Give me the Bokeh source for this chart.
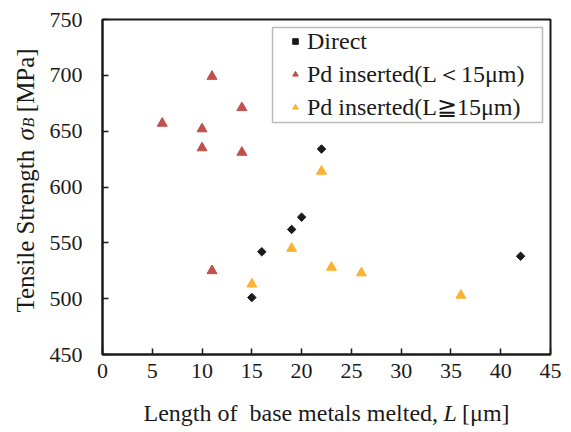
import math
from bokeh.plotting import figure
from bokeh.models import Range1d, FixedTicker, Legend, LegendItem, Label, BoxAnnotation
from bokeh.embed import file_html
from bokeh.resources import INLINE

# ---- data ----
direct_L = [15, 16, 19, 20, 22, 42]
direct_sigma = [501, 542, 562, 573, 634, 538]

pd_lt15_L = [6, 10, 10, 11, 11, 14, 14]
pd_lt15_sigma = [657, 652, 635, 699, 525, 671, 631]

pd_ge15_L = [15, 19, 22, 23, 26, 36]
pd_ge15_sigma = [513, 545, 614, 528, 523, 503]

series_names = ["Direct", "Pd inserted(L\uff1c15\u03bcm)", "Pd inserted(L\u226715\u03bcm)"]
x_ticks = [0, 5, 10, 15, 20, 25, 30, 35, 40, 45]
y_ticks = [450, 500, 550, 600, 650, 700, 750]

SERIF = "Liberation Serif"
INK = "#1a1a1a"
RED = "#C0504D"
ORANGE = "#F9B233"
NB = "\u00a0"

p = figure(width=571, height=432, output_backend="svg", toolbar_location=None,
           x_range=Range1d(0, 45), y_range=Range1d(450, 750),
           min_border_left=102, min_border_right=21, min_border_top=19, min_border_bottom=78)
p.background_fill_color = "white"
p.border_fill_color = "white"
p.outline_line_color = INK
p.outline_line_width = 2
p.xgrid.visible = False
p.ygrid.visible = False

for ax, ticks in ((p.xaxis[0], x_ticks), (p.yaxis[0], y_ticks)):
    ax.ticker = FixedTicker(ticks=ticks)
    ax.axis_line_color = INK
    ax.axis_line_width = 2
    ax.major_tick_line_color = INK
    ax.major_tick_line_width = 1.5
    ax.major_tick_in = 6
    ax.major_tick_out = 0
    ax.minor_tick_line_color = None
    ax.major_label_text_font = SERIF
    ax.major_label_text_font_size = "22px"
    ax.major_label_text_color = INK
p.xaxis[0].major_label_standoff = 9
p.yaxis[0].major_label_standoff = 20

r_direct = p.scatter(direct_L, direct_sigma, marker="square", angle=math.pi / 4, size=6,
                     fill_color=INK, line_color=INK)
r_lt = p.scatter(pd_lt15_L, pd_lt15_sigma, marker="triangle", size=10,
                 fill_color=RED, line_color=RED)
r_ge = p.scatter(pd_ge15_L, pd_ge15_sigma, marker="triangle", size=10,
                 fill_color=ORANGE, line_color=ORANGE)

# legend border box (screen units relative to the frame)
p.add_layout(BoxAnnotation(left=170, right=440, top=327, bottom=232,
                           left_units="screen", right_units="screen",
                           top_units="screen", bottom_units="screen",
                           fill_color="white", fill_alpha=1,
                           line_color=INK, line_width=1.5, level="overlay"))

legend = Legend(items=[LegendItem(label=series_names[0], renderers=[r_direct]),
                       LegendItem(label=series_names[1], renderers=[r_lt]),
                       LegendItem(label=series_names[2], renderers=[r_ge])],
                location=(186, 232), padding=0, spacing=2,
                glyph_width=14, glyph_height=30, label_height=26, label_standoff=5,
                label_text_font=SERIF, label_text_font_size="24px",
                label_text_color=INK,
                border_line_alpha=0, background_fill_alpha=0)
p.add_layout(legend, "center")


def lab(side, x, y, text, size, italic=False, angle=0.0):
    # placed in a side panel so it is not clipped to the frame; canvas coordinates
    p.add_layout(Label(x=x, y=y, x_units="canvas", y_units="canvas", angle=angle,
                       text=text, text_font=SERIF,
                       text_font_style="italic" if italic else "normal",
                       text_font_size=f"{size}px", text_baseline="alphabetic",
                       text_align="left", text_color=INK), side)


# x axis label: "Length of  base metals melted, L [μm]"
XFS = 24
xb = 412
xs = 143
gap_x = 4
lab("below", xs, xb, "Length of" + NB + " base metals melted," + NB * gap_x + "[\u03bcm]", XFS)
xL = xs + 12.276 * XFS + (gap_x * 0.25 - 0.556) * XFS / 2
lab("right", xL, xb, "L", XFS, italic=True)

# y axis label: "Tensile Strength σB [MPa]" (rotated, reads upward)
YFS = 25
yb = 25
ys = 312
ang = math.pi / 2
gap_y = 6
lab("left", yb, ys, "Tensile Strength" + NB * gap_y + "[MPa]", YFS, angle=ang)
y_gap0 = ys - 6.583 * YFS
sig_w = 0.52 * YFS
b_w = 0.611 * 16
y_sig = y_gap0 - (gap_y * 0.25 * YFS - sig_w - b_w) / 2
lab("above", yb, y_sig, "\u03c3", YFS, italic=True, angle=ang)
lab("below", yb + 3, y_sig - sig_w, "B", 16, italic=True, angle=ang)

open("out.html", "w").write(file_html(p, INLINE))
